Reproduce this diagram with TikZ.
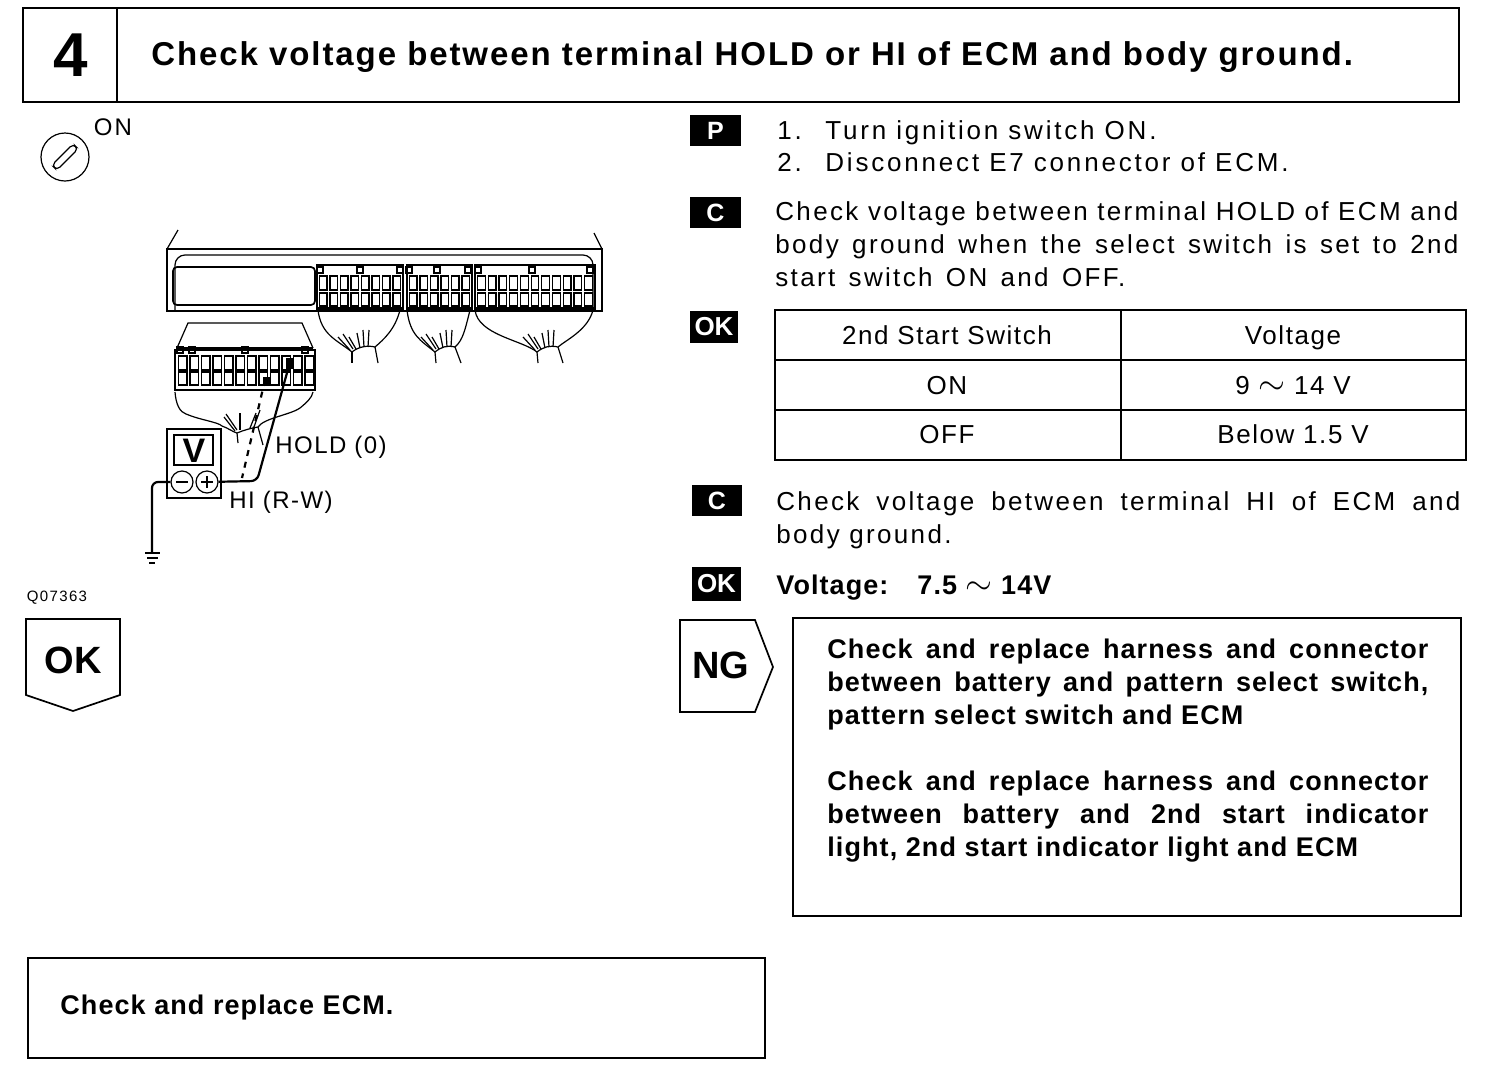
\documentclass[tikz,border=0pt]{standalone}
\usepackage{fontspec}
\setmainfont{Liberation Sans}[LetterSpace=9]
\usetikzlibrary{arrows.meta}

\tikzset{
	frameline/.style={line width=0.85pt},
	thinline/.style={line width=0.6pt},
	wireline/.style={line width=1.1pt},
	bodytext/.style={inner sep=0pt, font=\fontsize{13}{16.5}\selectfont},
	tabletext/.style={inner sep=0pt, anchor=base, font=\fontsize{13}{16.5}\selectfont\addfontfeature{LetterSpace=6}},
	smalltext/.style={inner sep=0pt, anchor=west, font=\fontsize{12}{14}\selectfont\addfontfeature{LetterSpace=6}},
	boldtext/.style={inner sep=0pt, font=\fontsize{13.5}{16.5}\selectfont\bfseries\addfontfeature{LetterSpace=4}},
	flagtext/.style={inner sep=0pt, font=\fontsize{19}{20}\selectfont\bfseries\addfontfeature{LetterSpace=0}},
	tagbox/.style={fill=black, text=white, inner sep=0pt, font=\fontsize{12.5}{14}\selectfont\bfseries},
	oktag/.style={tagbox, font=\fontsize{13}{14}\selectfont\bfseries\addfontfeature{LetterSpace=0}}
}

% one row of connector cells
\newcommand{\cellrow}[5]{
	\foreach \i in {1,...,#3}{
		\pgfmathsetmacro{\xa}{#1+(\i-1)*(#2-#1)/#3+1.5}
		\pgfmathsetmacro{\xb}{#1+\i*(#2-#1)/#3-1.5}
		\draw[thinline] (\xa,#4) rectangle (\xb,#5);
	}
}
\newcommand{\wavesign}{{\fontsize{19}{19}\selectfont$\sim$}}

\begin{document}
\begin{tikzpicture}[x=0.5pt,y=-0.5pt]
	\useasboundingbox (0,0) rectangle (1504,1066);

	% Title box
	\draw[frameline] (23,8) rectangle (1459,102);
	\draw[thinline] (117,8) -- (117,102);
	\node[inner sep=0pt, font=\fontsize{31}{32}\selectfont\bfseries] (stepnum) at (71,55) {4};
	\node[anchor=west, inner sep=0pt, font=\fontsize{16.5}{18}\selectfont\bfseries\addfontfeature{LetterSpace=5.8}] (title) at (151,57) {Check voltage between terminal HOLD or HI of ECM and body ground.};

	% Ignition key symbol
	\draw[thinline] (65,157) circle (24);
	\draw[thinline, rounded corners=2pt, rotate around={45:(65,157)}] (50,153.5) rectangle (80,160.5);
	\node[bodytext, font=\fontsize{12}{14}\selectfont] (keyon) at (113,127) {ON};

	% ECM case
	\draw[thinline] (167,311) -- (167,249) -- (602,249) -- (602,311) -- cycle;
	\draw[thinline] (167,249) -- (178,230);
	\draw[thinline] (602,249) -- (594,233);
	\draw[thinline, rounded corners=5pt] (175,311) -- (175,255) -- (593,255) -- (593,311);
	\draw[frameline, rounded corners=2pt] (173,267) rectangle (315,305);

	% Connector sockets on the case
	\draw[thinline] (317,265) rectangle (403,310);
	\draw[thinline] (407,265) rectangle (472,310);
	\draw[thinline] (475,265) rectangle (595,310);
	\cellrow{318}{402}{8}{276}{290}
	\cellrow{318}{402}{8}{293}{306}
	\cellrow{408}{471}{6}{276}{290}
	\cellrow{408}{471}{6}{293}{306}
	\cellrow{476}{594}{11}{276}{290}
	\cellrow{476}{594}{11}{293}{306}
	\draw[frameline] (317,308) -- (403,308);
	\draw[frameline] (407,308) -- (472,308);
	\draw[frameline] (475,308) -- (595,308);

	% Clips on the sockets
	\foreach \x in {320,360,400,409,437,468,478,532,590}{
		\draw[thinline] (\x-3,267) rectangle (\x+3,273);
	}

	% Harnesses on the case
	\foreach \xa/\xb/\xc/\xd/\xe/\xf in {318/352/375/400/352/378, 407/435/455/470/436/461, 475/537/558/593/538/563}{
		\draw[thinline] (\xa,310) .. controls (\xa+3,335) and (\xb-15,340) .. (\xb,352) .. controls (\xb+6,347) and (\xc-8,345) .. (\xc,347) .. controls (\xc+8,340) and (\xd-5,330) .. (\xd,310);
		\draw[thinline] (\xb,352) -- (\xe,363);
		\draw[thinline] (\xc,347) -- (\xf,363);
		\draw[thinline] (\xb-2,350) -- (\xb-14,337);
		\draw[thinline] (\xb+1,349) -- (\xb-9,334);
		\draw[thinline] (\xb+4,349) -- (\xb-3,337);
		\draw[thinline] (\xb+8,348) -- (\xb+5,333);
		\draw[thinline] (\xb+12,347) -- (\xb+11,330);
		\draw[thinline] (\xb+16,347) -- (\xb+17,330);
	}

	% Unplugged connector
	\draw[thinline] (177,348) -- (188,323) -- (302,323) -- (313,348);
	\draw[thinline] (177,348) -- (313,348);
	\draw[thinline] (175,350) rectangle (315,390);
	\cellrow{177}{315}{12}{356}{370}
	\cellrow{177}{315}{12}{372}{385}
	\draw[frameline] (175,390) -- (315,390);
	\fill (286,358) rectangle (293,369);
	\fill (263,377) rectangle (271,386);
	\foreach \x in {180,192,245,305}{
		\draw[thinline] (\x-3,347) rectangle (\x+3,353);
	}

	% Harness of the unplugged connector
	\draw[thinline] (175,392) .. controls (176,405) and (180,412) .. (186,414) .. controls (200,420) and (218,422) .. (222,426) .. controls (228,428) and (233,432) .. (237,433) .. controls (244,430) and (252,428) .. (258,427) .. controls (264,418) and (290,415) .. (300,408) .. controls (306,403) and (312,398) .. (313,392);
	\draw[thinline] (237,433) -- (238,443);
	\draw[thinline] (258,427) -- (263,445);
	\draw[thinline] (235,431) -- (224,417);
	\draw[thinline] (237,430) -- (226,414);
	\draw[thinline] (240,430) -- (240,413);
	\draw[thinline] (250,428) -- (256,413);
	\draw[thinline] (254,427) -- (260,410);

	% Voltmeter
	\draw[frameline] (167,429) rectangle (221,498);
	\draw[frameline] (174,435) rectangle (213,465);
	\node[inner sep=0pt, font=\fontsize{17}{18}\selectfont\bfseries\addfontfeature{LetterSpace=0}] (vmark) at (194,451) {V};
	\node[draw, circle, thinline, minimum size=11pt, inner sep=0pt] (minus) at (182,482) {};
	\node[draw, circle, thinline, minimum size=11pt, inner sep=0pt] (plus) at (207,482) {};
	\draw[frameline] (176,482) -- (188,482);
	\draw[thinline] (201,482) -- (213,482);
	\draw[thinline] (207,476) -- (207,488);

	% Ground lead
	\coordinate (earth) at (152,553);
	\draw[wireline, rounded corners=3pt] (minus) -- (152,482) -- (earth);
	\draw[thinline] (145,553) -- (160,553);
	\draw[thinline] (147,558) -- (158,558);
	\draw[thinline] (149,563) -- (155,563);

	% Test leads
	\coordinate (histart) at (290,362);
	\coordinate (holdstart) at (265,380);
	\draw[wireline, rounded corners=3pt] (plus) -- (257,481) -- (histart);
	\draw[wireline, dashed] (holdstart) -- (242,478);
	\node[smalltext] (holdlabel) at (275,447) {HOLD (0)};
	\node[smalltext] (hilabel) at (229,502) {HI (R-W)};

	\node[inner sep=0pt, font=\fontsize{7.5}{9}\selectfont] (partno) at (57,598) {Q07363};

	% OK flag and bottom box
	\draw[frameline] (26,619) -- (120,619) -- (120,695) -- (73,711) -- (26,695) -- cycle;
	\node[flagtext] (oknext) at (73,660) {OK};
	\draw[frameline] (28,958) rectangle (765,1058);
	\node[boldtext, anchor=west] (replaceecm) at (60,1008) {Check and replace ECM.};

	% Procedure tags
	\node[tagbox, minimum width=25.5pt, minimum height=15.5pt] (tagp) at (715.5,130.5) {P};
	\node[tagbox, minimum width=25.5pt, minimum height=15.5pt] (tagca) at (715.5,212.5) {C};
	\node[oktag, minimum width=24pt, minimum height=16pt] (tagoka) at (714,327) {OK};
	\node[tagbox, minimum width=25pt, minimum height=15.5pt] (tagcb) at (717,500.5) {C};
	\node[oktag, minimum width=24.5pt, minimum height=17pt] (tagokb) at (716.5,584) {OK};

	% Procedure text
	\node[bodytext, font=\fontsize{13}{16.5}\selectfont\addfontfeature{LetterSpace=10.8}, anchor=base west] (stepa) at (777,139) {\makebox[24pt][l]{1.}Turn ignition switch ON.};
	\node[bodytext, font=\fontsize{13}{16.5}\selectfont\addfontfeature{LetterSpace=10.8}, anchor=base west] (stepb) at (777,171) {\makebox[24pt][l]{2.}Disconnect E7 connector of ECM.};
	\node[bodytext, anchor=north west, text width=341.5pt, align=justify] (checka) at (775,201) {Check voltage between terminal HOLD of ECM and\linebreak body ground when the select switch is set to 2nd\linebreak \makebox[175pt][s]{start switch ON and OFF.}};

	% Voltage table
	\draw[frameline] (775,310) rectangle (1466,460);
	\draw[frameline] (775,360) -- (1466,360);
	\draw[frameline] (775,410) -- (1466,410);
	\draw[frameline] (1121,310) -- (1121,460);
	\node[tabletext] (headswitch) at (947,344) {2nd Start Switch};
	\node[tabletext] (headvolt) at (1293,344) {Voltage};
	\node[tabletext] (rowon) at (947,394) {ON};
	\node[tabletext] (volton) at (1293,394) {9 \wavesign\ 14 V};
	\node[tabletext] (rowoff) at (947,443) {OFF};
	\node[tabletext] (voltoff) at (1293,443) {Below 1.5 V};

	\node[bodytext, anchor=north west, text width=342pt, align=justify] (checkb) at (776,491) {Check voltage between terminal HI of ECM and\linebreak body ground.};
	\node[boldtext, anchor=base west] (spec) at (776,594) {Voltage:\hspace{14.5pt}7.5 \wavesign\ 14V};

	% NG flag and repair box
	\draw[frameline] (680,620) -- (755,620) -- (773,667) -- (755,712) -- (680,712) -- cycle;
	\node[flagtext] (ngnext) at (721,665) {NG};
	\draw[frameline] (793,618) rectangle (1461,916);
	\node[boldtext, anchor=north west, text width=300.5pt, align=justify] (repaira) at (827,639) {Check and replace harness and connector\linebreak between battery and pattern select switch,\linebreak pattern select switch and ECM};
	\node[boldtext, anchor=north west, text width=300.5pt, align=justify] (repairb) at (827,771) {Check and replace harness and connector\linebreak between battery and 2nd start indicator\linebreak light, 2nd start indicator light and ECM};
\end{tikzpicture}
\end{document}
